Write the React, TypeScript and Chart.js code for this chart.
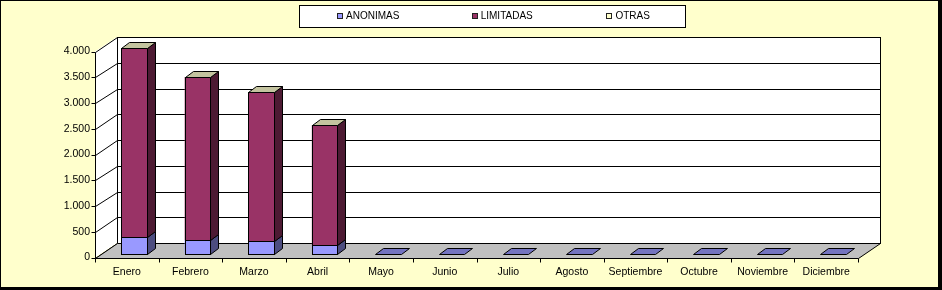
import React, { useEffect, useRef } from 'react';
import { Chart, registerables } from 'chart.js';

Chart.register(...registerables);

const categories = ['Enero', 'Febrero', 'Marzo', 'Abril', 'Mayo', 'Junio', 'Julio', 'Agosto', 'Septiembre', 'Octubre', 'Noviembre', 'Diciembre'];
const anonimas: (number | null)[] = [311, 258, 239, 161, 0, 0, 0, 0, 0, 0, 0, 0];
const limitadas: (number | null)[] = [3670, 3171, 2899, 2330, null, null, null, null, null, null, null, null];
const otras: (number | null)[] = [0, 0, 0, 0, null, null, null, null, null, null, null, null];
const seriesLabels = ['ANONIMAS', 'LIMITADAS', 'OTRAS'];
const yMax = 4000;
const yStep = 500;

const frontColors = ['#9999FF', '#993366', '#FFFFCC'];
const sideColors = ['#4D4D80', '#4D1A33', '#808066'];
const topColors = ['#7373C0', '#73264D', '#C4C4A0'];

const BAR_OFF = { dx: 7, dy: -4 };
const BACK_OFF = { dx: 22, dy: -14.5 };
const DEPTH = { dx: 8, dy: -6 };

const fmt = (v: number) => String(v).replace(/\B(?=(\d{3})+(?!\d))/g, '.');
const px = (v: number) => Math.round(v) + 0.5;

const threeD = {
  id: 'threeD',
  beforeDraw(chart: any) {
    const { ctx, chartArea: a, scales } = chart;
    const y = scales.y;
    ctx.save();
    ctx.fillStyle = '#FFFFCC';
    ctx.fillRect(0, 0, chart.width, chart.height);
    ctx.fillStyle = '#000';
    ctx.fillRect(0, 0, chart.width, 1);
    ctx.fillRect(0, 0, 1, chart.height);
    ctx.fillRect(938, 0, 4, chart.height);
    ctx.fillRect(0, 287, chart.width, 3);

    // legend
    ctx.fillStyle = '#FFFFFF';
    ctx.fillRect(300, 6, 385, 21);
    ctx.strokeStyle = '#000';
    ctx.lineWidth = 1;
    ctx.strokeRect(299.5, 5.5, 386, 22);
    ctx.font = '10px "Liberation Sans", Arial, sans-serif';
    ctx.textBaseline = 'middle';
    ctx.textAlign = 'left';
    seriesLabels.forEach((lab, i) => {
      const mx = 337 + 134.7 * i;
      ctx.fillStyle = frontColors[i];
      ctx.fillRect(Math.round(mx), 13, 5, 5);
      ctx.strokeStyle = '#222';
      ctx.strokeRect(Math.round(mx) + 0.5, 13.5, 5, 5);
      ctx.fillStyle = '#000';
      ctx.fillText(lab, mx + 9, 16.5);
    });

    const L = a.left, R = a.right;
    const B = y.getPixelForValue(0), T = y.getPixelForValue(yMax);
    const bx = BACK_OFF.dx, by = BACK_OFF.dy;

    // back wall
    ctx.fillStyle = '#FFFFFF';
    ctx.fillRect(L + bx, T + by, R - L, B - T);
    // left wall
    ctx.beginPath();
    ctx.moveTo(L, T); ctx.lineTo(L + bx, T + by); ctx.lineTo(L + bx, B + by); ctx.lineTo(L, B);
    ctx.closePath();
    ctx.fill();

    // gridlines
    ctx.strokeStyle = '#000';
    ctx.lineWidth = 1;
    for (let v = 0; v <= yMax; v += yStep) {
      const yf = y.getPixelForValue(v);
      const yb = yf + by;
      ctx.beginPath();
      ctx.moveTo(px(L + bx), px(yb)); ctx.lineTo(px(R + bx), px(yb));
      ctx.moveTo(px(L), px(yf)); ctx.lineTo(px(L + bx), px(yb));
      ctx.moveTo(px(L) - 4, px(yf)); ctx.lineTo(px(L), px(yf));
      ctx.stroke();
    }
    ctx.strokeRect(px(L + bx), px(T + by), Math.round(R - L), Math.round(B - T));

    // floor
    ctx.fillStyle = '#C0C0C0';
    ctx.beginPath();
    ctx.moveTo(px(L), px(B)); ctx.lineTo(px(R), px(B)); ctx.lineTo(px(R + bx), px(B + by)); ctx.lineTo(px(L + bx), px(B + by));
    ctx.closePath();
    ctx.fill();
    ctx.stroke();

    // front y axis line
    ctx.beginPath();
    ctx.moveTo(px(L), px(T)); ctx.lineTo(px(L), px(B) + 1);
    ctx.stroke();

    // x tick marks
    const n = categories.length;
    const cw = (R - L) / n;
    ctx.beginPath();
    for (let i = 0; i <= n; i++) {
      const x = px(L + cw * i);
      ctx.moveTo(x, px(B)); ctx.lineTo(x, px(B) + 4);
    }
    ctx.stroke();
    ctx.restore();
  },
  beforeDatasetsDraw(chart: any) {
    chart.ctx.save();
    chart.ctx.translate(BAR_OFF.dx, BAR_OFF.dy);
  },
  afterDatasetsDraw(chart: any) {
    const ctx = chart.ctx;
    ctx.restore();
    ctx.save();
    ctx.translate(BAR_OFF.dx, BAR_OFF.dy);
    ctx.strokeStyle = '#000';
    ctx.lineWidth = 1;
    const dsCount = chart.data.datasets.length;
    for (let d = 0; d < dsCount; d++) {
      const meta = chart.getDatasetMeta(d);
      meta.data.forEach((el: any, i: number) => {
        const v = chart.data.datasets[d].data[i];
        if (v == null || v === 0) return;
        const l = Math.round(el.x - el.width / 2);
        const r = Math.round(el.x + el.width / 2);
        const top = Math.round(Math.min(el.y, el.base));
        const bot = Math.round(Math.max(el.y, el.base));
        // crisp front face
        ctx.fillStyle = frontColors[d];
        ctx.fillRect(l, top, r - l, bot - top);
        ctx.strokeRect(l + 0.5, top + 0.5, r - l, bot - top);
        // side face
        ctx.fillStyle = sideColors[d];
        ctx.beginPath();
        ctx.moveTo(r + 0.5, top + 0.5);
        ctx.lineTo(r + DEPTH.dx + 0.5, top + DEPTH.dy + 0.5);
        ctx.lineTo(r + DEPTH.dx + 0.5, bot + DEPTH.dy + 0.5);
        ctx.lineTo(r + 0.5, bot + 0.5);
        ctx.closePath();
        ctx.fill();
        ctx.stroke();
      });
    }
    // top caps
    for (let i = 0; i < categories.length; i++) {
      let top = -1;
      for (let d = 0; d < dsCount; d++) {
        if (chart.data.datasets[d].data[i] != null) top = d;
      }
      if (top < 0) continue;
      const el = chart.getDatasetMeta(top).data[i];
      const l = Math.round(el.x - el.width / 2);
      const r = Math.round(el.x + el.width / 2);
      const yy = Math.round(el.y);
      ctx.fillStyle = topColors[top];
      ctx.beginPath();
      ctx.moveTo(l + 0.5, yy + 0.5);
      ctx.lineTo(r + 0.5, yy + 0.5);
      ctx.lineTo(r + DEPTH.dx + 0.5, yy + DEPTH.dy + 0.5);
      ctx.lineTo(l + DEPTH.dx + 0.5, yy + DEPTH.dy + 0.5);
      ctx.closePath();
      ctx.fill();
      ctx.stroke();
    }
    ctx.restore();
  },
};

export default function App() {
  const ref = useRef<HTMLCanvasElement>(null);
  useEffect(() => {
    document.body.style.margin = '0';
    const font = { family: '"Liberation Sans", Arial, sans-serif', size: 10.5 };
    const series = [anonimas, limitadas, otras];
    const chart = new Chart(ref.current!, {
      type: 'bar',
      data: {
        labels: categories,
        datasets: series.map((data, i) => ({
          label: seriesLabels[i],
          data: data as any,
          backgroundColor: frontColors[i],
          borderWidth: 0,
          categoryPercentage: 1,
          barPercentage: 0.4,
          clip: false as any,
        })),
      },
      options: {
        responsive: false,
        animation: false,
        devicePixelRatio: 1,
        layout: { padding: { left: 0, top: 51.5, right: 84, bottom: 0 } },
        plugins: { legend: { display: false }, tooltip: { enabled: false } },
        scales: {
          x: {
            stacked: true,
            grid: { display: false, drawTicks: false },
            border: { display: false },
            ticks: { color: '#000', font, padding: 8, maxRotation: 0, autoSkip: false },
            afterFit: (s: any) => { s.height = 32.5; },
          },
          y: {
            stacked: true,
            min: 0,
            max: yMax,
            grid: { display: false, drawTicks: false },
            border: { display: false },
            ticks: { stepSize: yStep, color: '#000', font, padding: 5, callback: (v: any) => fmt(Number(v)) },
            afterFit: (s: any) => { s.width = 95; },
          },
        },
      },
      plugins: [threeD],
    });
    return () => chart.destroy();
  }, []);
  return (
    <div style={{ position: 'fixed', left: 0, top: 0, width: 942, height: 290 }}>
      <canvas ref={ref} width={942} height={290} />
    </div>
  );
}
